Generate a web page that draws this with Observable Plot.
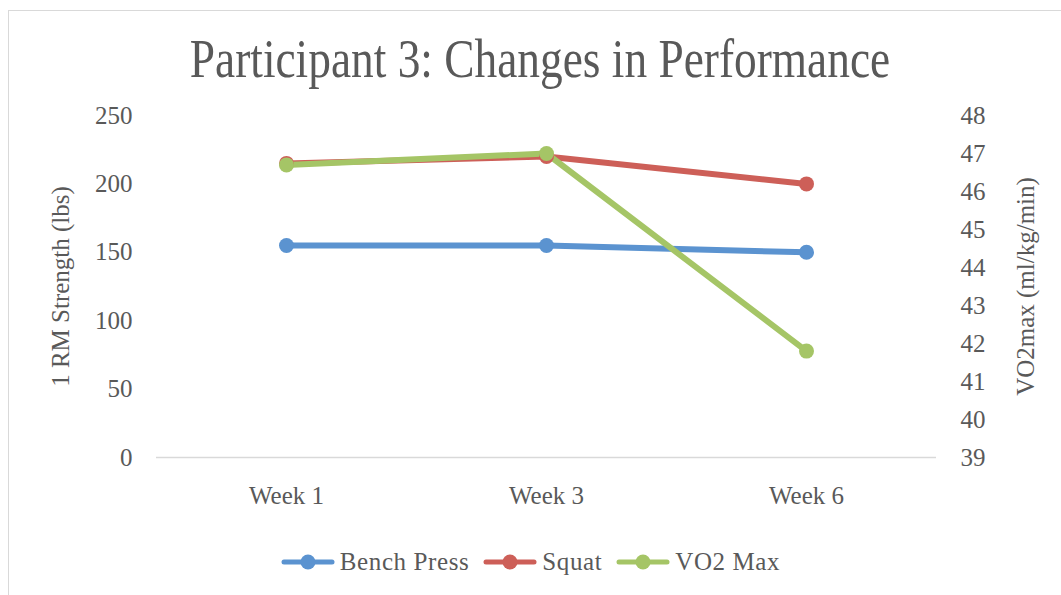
<!DOCTYPE html>
<html>
<head>
<meta charset="utf-8">
<script src="https://cdn.jsdelivr.net/npm/d3@7"></script>
<script src="https://cdn.jsdelivr.net/npm/@observablehq/plot@0.6"></script>
<style>
  html, body { margin: 0; padding: 0; background: #fff; }
  body { width: 1061px; height: 595px; position: relative; overflow: hidden; font-family: "Liberation Serif", serif; color: #595959; }
  #frame { position: absolute; left: 8px; top: 10px; width: 1070px; height: 600px; border: 1px solid #d9d9d9; box-sizing: border-box; }
  #title { position: absolute; left: 0; width: 1080px; top: 27px; text-align: center; font-size: 54px; color: #595959; line-height: 64px; transform: scaleX(0.84); transform-origin: 540px 0; }
  #chart { position: absolute; left: 0; top: 90px; }
  #legend { position: absolute; left: 0; width: 1061px; top: 548px; display: flex; justify-content: center; font-size: 25px; color: #595959; }
  .item { display: flex; align-items: center; margin: 0 7px; }
  .item span { letter-spacing: 0.6px; }
  .item svg { margin-right: 5px; }
</style>
</head>
<body>
<div id="frame"></div>
<div id="title">Participant 3: Changes in Performance</div>
<div id="chart"></div>
<div id="legend"></div>
<script>
const weeks = ["Week 1", "Week 3", "Week 6"];
const bench = [155, 155, 150];
const squat = [215, 220, 200];
const vo2 = [46.7, 47.0, 41.8];
const seriesNames = ["Bench Press", "Squat", "VO2 Max"];
const seriesColors = ["#5b93d0", "#cd5f58", "#a5c566"];
const leftTicks = [0, 50, 100, 150, 200, 250];
const rightTicks = [39, 40, 41, 42, 43, 44, 45, 46, 47, 48];
const leftTitle = "1 RM Strength (lbs)";
const rightTitle = "VO2max (ml/kg/min)";

// secondary axis mapping: 39..48 -> 0..250
const toLeft = v => (v - 39) * 250 / 9;
const fromLeft = v => v * 9 / 250 + 39;

const data = [
  ...weeks.map((w, i) => ({week: w, value: bench[i], series: seriesNames[0]})),
  ...weeks.map((w, i) => ({week: w, value: squat[i], series: seriesNames[1]})),
  ...weeks.map((w, i) => ({week: w, value: toLeft(vo2[i]), series: seriesNames[2]}))
];

const font = "Liberation Serif, serif";
const plot = Plot.plot({
  width: 1061,
  height: 440,
  marginLeft: 156,
  marginRight: 125,
  marginTop: 25,
  marginBottom: 73,
  style: {fontFamily: font, color: "#595959", background: "transparent"},
  x: {type: "point", domain: weeks, padding: 0.5, label: null},
  y: {domain: [0, 250], label: null},
  color: {domain: seriesNames, range: seriesColors},
  marks: [
    Plot.ruleY([0], {stroke: "#d9d9d9", strokeWidth: 1.5}),
    Plot.axisX({tickSize: 0, tickPadding: 29, fontSize: 25, label: null, fill: "#595959"}),
    Plot.axisY({ticks: leftTicks, tickSize: 0, tickPadding: 24, fontSize: 25, label: null, fill: "#595959"}),
    Plot.axisY({anchor: "right", ticks: rightTicks.map(toLeft), tickFormat: d => String(Math.round(fromLeft(d))), tickSize: 0, tickPadding: 24, fontSize: 25, label: null, fill: "#595959"}),
    Plot.text([leftTitle], {frameAnchor: "left", textAnchor: "middle", dx: -96, rotate: -90, fontSize: 25, fill: "#595959"}),
    Plot.text([rightTitle], {frameAnchor: "right", textAnchor: "middle", dx: 89, rotate: -90, fontSize: 25, fill: "#595959"}),
    ...seriesNames.map(s => Plot.line(data.filter(d => d.series === s), {x: "week", y: "value", stroke: "series", strokeWidth: 6, strokeLinecap: "round", strokeLinejoin: "round"})),
    ...seriesNames.map(s => Plot.dot(data.filter(d => d.series === s), {x: "week", y: "value", fill: "series", r: 7.5}))
  ]
});
document.getElementById("chart").appendChild(plot);

const legend = document.getElementById("legend");
seriesNames.forEach((s, i) => {
  const item = document.createElement("div");
  item.className = "item";
  item.innerHTML = `<svg width="54" height="20"><line x1="3" x2="51" y1="10" y2="10" stroke="${seriesColors[i]}" stroke-width="5" stroke-linecap="round"/><circle cx="27" cy="10" r="7.5" fill="${seriesColors[i]}"/></svg><span>${s}</span>`;
  legend.appendChild(item);
});
</script>
</body>
</html>
